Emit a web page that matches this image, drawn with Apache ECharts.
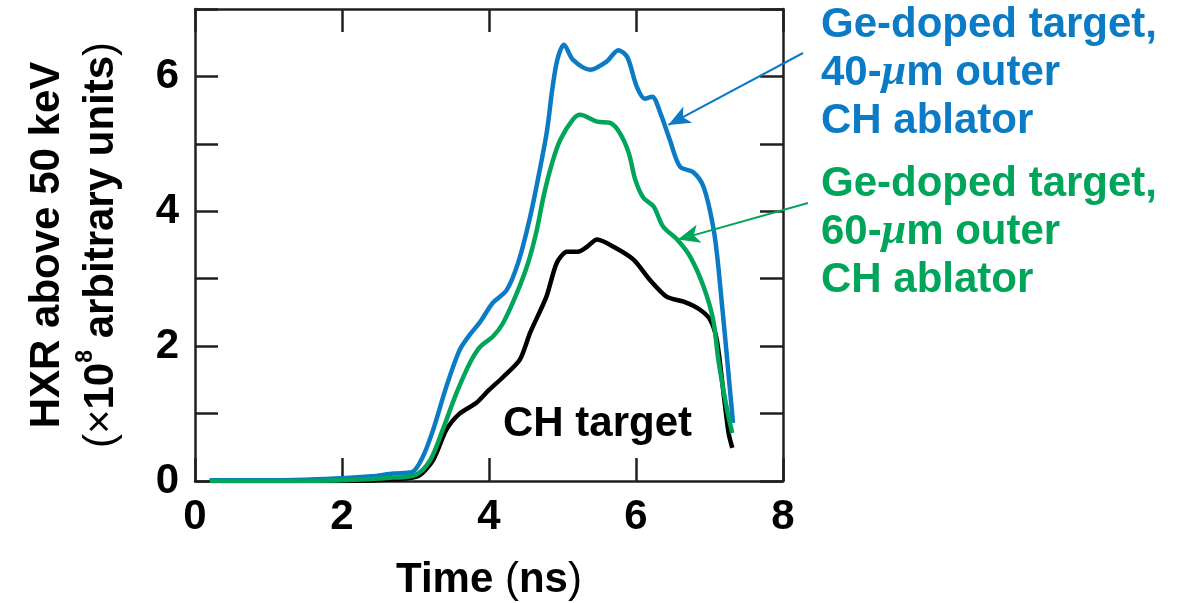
<!DOCTYPE html>
<html>
<head>
<meta charset="utf-8">
<script src="https://cdn.jsdelivr.net/npm/echarts@6/dist/echarts.min.js"></script>
<style>
  html, body { margin: 0; padding: 0; background: #fff; }
  #chart { width: 1184px; height: 603px; }
</style>
</head>
<body>
<div id="chart"></div>
<script>
// Time (ns) and HXR values
const blackTime = [0.2, 2.0, 2.8, 3.05, 3.24, 3.42, 3.6, 3.83, 4.0, 4.2, 4.42, 4.56, 4.78, 4.92, 5.06, 5.21, 5.33, 5.47, 5.7, 5.97, 6.19, 6.42, 6.65, 6.87, 7.01, 7.1, 7.19, 7.26, 7.31]
const blackHxr = [0.0, 0.0, 0.03, 0.08, 0.31, 0.76, 1.0, 1.16, 1.35, 1.55, 1.8, 2.2, 2.73, 3.23, 3.4, 3.4, 3.47, 3.58, 3.47, 3.28, 2.98, 2.73, 2.66, 2.54, 2.39, 2.09, 1.31, 0.71, 0.49]

const blueTime = [0.2, 1.0, 1.5, 2.0, 2.4, 2.7, 2.95, 3.1, 3.24, 3.42, 3.6, 3.74, 3.88, 4.05, 4.24, 4.4, 4.56, 4.69, 4.79, 4.86, 4.93, 5.02, 5.14, 5.38, 5.6, 5.76, 5.88, 6.01, 6.12, 6.22, 6.33, 6.46, 6.6, 6.78, 6.92, 7.05, 7.12, 7.32]
const blueHxr = [0.01, 0.01, 0.02, 0.04, 0.07, 0.11, 0.13, 0.36, 0.76, 1.4, 1.94, 2.17, 2.36, 2.64, 2.83, 3.25, 3.92, 4.61, 5.2, 5.8, 6.25, 6.47, 6.25, 6.1, 6.22, 6.39, 6.29, 5.85, 5.67, 5.7, 5.46, 5.06, 4.66, 4.58, 4.36, 3.77, 3.18, 0.86]

const greenTime = [0.2, 1.0, 2.0, 2.7, 3.0, 3.2, 3.37, 3.56, 3.74, 3.88, 4.05, 4.19, 4.38, 4.53, 4.65, 4.74, 4.86, 4.97, 5.14, 5.24, 5.47, 5.65, 5.78, 5.9, 5.99, 6.1, 6.24, 6.37, 6.56, 6.74, 6.92, 7.05, 7.12, 7.24, 7.31]
const greenHxr = [0.0, 0.0, 0.01, 0.05, 0.09, 0.31, 0.76, 1.31, 1.75, 1.99, 2.14, 2.34, 2.79, 3.23, 3.72, 4.21, 4.72, 5.06, 5.36, 5.43, 5.33, 5.31, 5.16, 4.87, 4.47, 4.2, 4.07, 3.77, 3.58, 3.32, 2.88, 2.39, 1.8, 1.05, 0.71]

const xTicks = [0, 2, 4, 6, 8]
const yTickLabels = [0, 2, 4, 6]

// where the annotation arrows touch the curves (data units)
const blueArrowTip = [6.44, 5.28]
const greenArrowTip = [6.57, 3.58]

const FONT = '"Liberation Sans", Arial, Helvetica, sans-serif'
const INK = '#231f20'
const BLUE = '#0a7bc4'
const GREEN = '#00a55a'

const zip = ( xs, ys ) => xs.map( ( x, i ) => [x, ys[i]] )

const chart = echarts.init( document.getElementById( 'chart' ), null, { renderer : 'canvas' } )

const boxAxis = {
  axisLine : { show : true, onZero : false, lineStyle : { color : INK, width : 2.5 }},
  axisTick : { show : true, inside : true, length : 23, lineStyle : { color : INK, width : 2.5 }},
  splitLine : { show : false }
}

const arrowLine = ( color, fromPx, tip ) => ( {
  silent : true,
  symbol : ['none', 'arrow'],
  symbolSize : [14, 22],
  label : { show : false },
  lineStyle : { color : color, width : 2, type : 'solid' },
  emphasis : { disabled : true },
  animation : false,
  data : [[{ x : fromPx[0], y : fromPx[1] }, { coord : tip }]]
} )

chart.setOption( {
  animation : false,
  grid : { left : 195, right : 401, top : 9, bottom : 122, outerBoundsMode : 'none', containLabel : false },
  xAxis : [
    {
      type : 'value',
      min : 0,
      max : 8,
      interval : 2,
      ...boxAxis,
      axisLabel : {
        margin : 15,
        fontFamily : FONT,
        fontWeight : 'bold',
        fontSize : 42,
        color : '#000',
        formatter : v => xTicks.includes( v ) ? String( v ) : ''
      },
      name : '{b|Time }{r|(}{b|ns}{r|)}',
      nameLocation : 'middle',
      nameGap : 78,
      nameTextStyle : {
        fontFamily : FONT,
        fontSize : 42,
        color : '#000',
        rich : {
          b : { fontFamily : FONT, fontSize : 42, fontWeight : 'bold', color : '#000' },
          r : { fontFamily : FONT, fontSize : 42, fontWeight : 'normal', color : '#000' }
        }
      }
    },
    {
      type : 'value',
      position : 'top',
      min : 0,
      max : 8,
      interval : 2,
      ...boxAxis,
      axisLabel : { show : false }
    }
  ],
  yAxis : [
    {
      type : 'value',
      min : 0,
      max : 7,
      interval : 1,
      ...boxAxis,
      axisLabel : {
        margin : 16,
        fontFamily : FONT,
        fontWeight : 'bold',
        fontSize : 42,
        color : '#000',
        formatter : v => yTickLabels.includes( v ) ? String( v ) : ''
      },
      name : '{t|HXR above 50 keV}\n{r|(×}{t|10}{s|8}{t| arbitrary units}{r|)}',
      nameLocation : 'middle',
      nameRotate : 90,
      nameGap : 67,
      nameTextStyle : {
        fontFamily : FONT,
        fontSize : 42,
        color : '#000',
        lineHeight : 54,
        rich : {
          t : { fontFamily : FONT, fontSize : 42, fontWeight : 'bold', color : '#000', lineHeight : 54 },
          r : { fontFamily : FONT, fontSize : 42, fontWeight : 'normal', color : '#000', lineHeight : 54 },
          s : { fontFamily : FONT, fontSize : 23, fontWeight : 'bold', color : '#000', lineHeight : 14, verticalAlign : 'top' }
        }
      }
    },
    {
      type : 'value',
      position : 'right',
      min : 0,
      max : 7,
      interval : 1,
      ...boxAxis,
      axisLabel : { show : false }
    }
  ],
  series : [
    {
      name : 'CH target',
      type : 'line',
      data : zip( blackTime, blackHxr ),
      smooth : 0.25,
      showSymbol : false,
      lineStyle : { color : '#000', width : 4.5 }
    },
    {
      name : 'Ge-doped target, 40-µm outer CH ablator',
      type : 'line',
      data : zip( blueTime, blueHxr ),
      smooth : 0.3,
      showSymbol : false,
      lineStyle : { color : BLUE, width : 4.5 },
      markLine : arrowLine( BLUE, [803, 53], blueArrowTip )
    },
    {
      name : 'Ge-doped target, 60-µm outer CH ablator',
      type : 'line',
      data : zip( greenTime, greenHxr ),
      smooth : 0.3,
      showSymbol : false,
      lineStyle : { color : GREEN, width : 4.5 },
      markLine : arrowLine( GREEN, [808, 203], greenArrowTip )
    }
  ],
  graphic : [
    {
      type : 'text',
      left : 503,
      top : 403,
      style : { text : 'CH target', fill : '#000', font : 'bold 42px ' + FONT }
    },
    {
      type : 'text',
      left : 821,
      top : 4,
      style : {
        text : '{b|Ge-doped target,}\n{b|40-}{m|μ}{b|m outer}\n{b|CH ablator}',
        fill : BLUE,
        rich : {
          b : { fontFamily : FONT, fontSize : 42, fontWeight : 'bold', fill : BLUE, lineHeight : 48 },
          m : { fontFamily : '"Liberation Serif", serif', fontSize : 44, fontStyle : 'italic', fontWeight : 'bold', fill : BLUE, lineHeight : 48 }
        }
      }
    },
    {
      type : 'text',
      left : 821,
      top : 163,
      style : {
        text : '{b|Ge-doped target,}\n{b|60-}{m|μ}{b|m outer}\n{b|CH ablator}',
        fill : GREEN,
        rich : {
          b : { fontFamily : FONT, fontSize : 42, fontWeight : 'bold', fill : GREEN, lineHeight : 48 },
          m : { fontFamily : '"Liberation Serif", serif', fontSize : 44, fontStyle : 'italic', fontWeight : 'bold', fill : GREEN, lineHeight : 48 }
        }
      }
    }
  ]
} )

window.addEventListener( 'resize', () => chart.resize() )
</script>
</body>
</html>
